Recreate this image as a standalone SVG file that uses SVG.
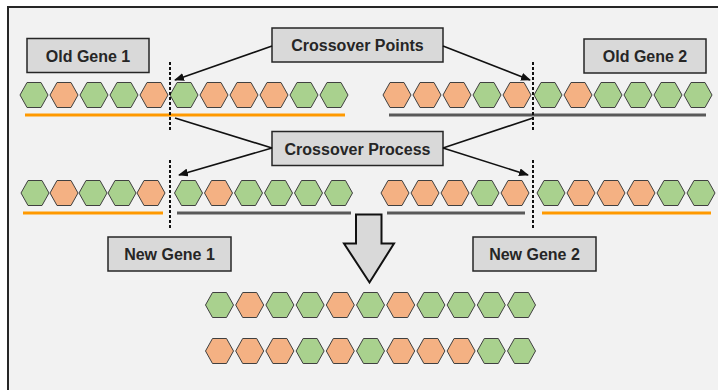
<svg xmlns="http://www.w3.org/2000/svg" width="718" height="390" viewBox="0 0 718 390">
<style>
.box{fill:#d9d9d9;stroke:#262626;stroke-width:1.5}
.lbl{font-family:"Liberation Sans",Arial,sans-serif;font-weight:bold;font-size:16px;fill:#262626;text-anchor:middle}
.g{fill:#a9d18e}
.o{fill:#f4b183}
.hx{stroke:#404040;stroke-width:1;stroke-linejoin:round}
.cn{stroke:#111;stroke-width:1.6;fill:none}
.dash{stroke:#111;stroke-width:2;stroke-dasharray:3 2;fill:none}
.or{stroke:#ff9900;stroke-width:3}
.gr{stroke:#595959;stroke-width:3}
</style>
<defs>
<polygon id="hex" class="hx" points="0,0 7,-12.5 21,-12.5 28,0 21,12.5 7,12.5"/>
<marker id="ah" markerWidth="10" markerHeight="8" refX="9" refY="4" orient="auto" markerUnits="userSpaceOnUse">
<path d="M0,0 L10,4 L0,8 Z" fill="#111"/>
</marker>
</defs>
<rect x="8" y="7" width="740" height="400" fill="#f2f2f2" stroke="#262626" stroke-width="2"/>

<g id="old-gene-1-label"><rect class="box" x="27" y="38.5" width="122" height="34"/><text class="lbl" x="88" y="61.5">Old Gene 1</text></g>
<g id="crossover-points"><rect class="box" x="272" y="28" width="171" height="34"/><text class="lbl" x="357.5" y="51">Crossover Points</text></g>
<g id="old-gene-2-label"><rect class="box" x="584" y="39" width="122" height="34"/><text class="lbl" x="645" y="62">Old Gene 2</text></g>
<g id="crossover-process"><rect class="box" x="272" y="131.5" width="171" height="34"/><text class="lbl" x="357.5" y="154.5">Crossover Process</text></g>
<g id="new-gene-1-label"><rect class="box" x="108" y="237" width="123" height="34"/><text class="lbl" x="169.5" y="260">New Gene 1</text></g>
<g id="new-gene-2-label"><rect class="box" x="473" y="237" width="123" height="34"/><text class="lbl" x="534.5" y="260">New Gene 2</text></g>

<g id="old-gene-1">
<use href="#hex" class="g" x="20" y="95"/><use href="#hex" class="o" x="50" y="95"/><use href="#hex" class="g" x="80" y="95"/><use href="#hex" class="g" x="110" y="95"/><use href="#hex" class="o" x="140" y="95"/>
<use href="#hex" class="g" x="170" y="95"/><use href="#hex" class="o" x="200" y="95"/><use href="#hex" class="o" x="230" y="95"/><use href="#hex" class="o" x="260" y="95"/><use href="#hex" class="g" x="290" y="95"/><use href="#hex" class="g" x="320" y="95"/>
<line class="or" x1="25" y1="115" x2="345" y2="115"/>
</g>
<g id="old-gene-2">
<use href="#hex" class="o" x="383" y="95"/><use href="#hex" class="o" x="413" y="95"/><use href="#hex" class="o" x="443" y="95"/><use href="#hex" class="g" x="473" y="95"/><use href="#hex" class="o" x="503" y="95"/>
<use href="#hex" class="g" x="534" y="95"/><use href="#hex" class="o" x="564" y="95"/><use href="#hex" class="g" x="594" y="95"/><use href="#hex" class="g" x="624" y="95"/><use href="#hex" class="g" x="654" y="95"/><use href="#hex" class="g" x="684" y="95"/>
<line class="gr" x1="389" y1="115" x2="706" y2="115"/>
</g>
<g id="new-gene-1">
<use href="#hex" class="g" x="21" y="193"/><use href="#hex" class="o" x="50" y="193"/><use href="#hex" class="g" x="79" y="193"/><use href="#hex" class="g" x="108" y="193"/><use href="#hex" class="o" x="137" y="193"/>
<use href="#hex" class="g" x="174.5" y="193"/><use href="#hex" class="o" x="204.5" y="193"/><use href="#hex" class="g" x="234.5" y="193"/><use href="#hex" class="g" x="264.5" y="193"/><use href="#hex" class="g" x="294.5" y="193"/><use href="#hex" class="g" x="324.5" y="193"/>
<line class="or" x1="23" y1="213" x2="163" y2="213"/>
<line class="gr" x1="177" y1="213" x2="351" y2="213"/>
</g>
<g id="new-gene-2">
<use href="#hex" class="o" x="381" y="193"/><use href="#hex" class="o" x="411" y="193"/><use href="#hex" class="o" x="441" y="193"/><use href="#hex" class="g" x="471" y="193"/><use href="#hex" class="o" x="501" y="193"/>
<use href="#hex" class="g" x="537" y="193"/><use href="#hex" class="o" x="567" y="193"/><use href="#hex" class="o" x="597" y="193"/><use href="#hex" class="o" x="627" y="193"/><use href="#hex" class="g" x="657" y="193"/><use href="#hex" class="g" x="687" y="193"/>
<line class="gr" x1="387" y1="213" x2="525" y2="213"/>
<line class="or" x1="542" y1="213" x2="711" y2="213"/>
</g>
<g id="result-gene-1">
<use href="#hex" class="g" x="205.5" y="305"/><use href="#hex" class="o" x="235.7" y="305"/><use href="#hex" class="g" x="265.9" y="305"/><use href="#hex" class="g" x="296.1" y="305"/><use href="#hex" class="o" x="326.3" y="305"/><use href="#hex" class="g" x="356.5" y="305"/><use href="#hex" class="o" x="386.7" y="305"/><use href="#hex" class="g" x="416.9" y="305"/><use href="#hex" class="g" x="447.1" y="305"/><use href="#hex" class="g" x="477.3" y="305"/><use href="#hex" class="g" x="507.5" y="305"/>
</g>
<g id="result-gene-2">
<use href="#hex" class="o" x="205.5" y="351"/><use href="#hex" class="o" x="235.7" y="351"/><use href="#hex" class="o" x="265.9" y="351"/><use href="#hex" class="g" x="296.1" y="351"/><use href="#hex" class="o" x="326.3" y="351"/><use href="#hex" class="g" x="356.5" y="351"/><use href="#hex" class="o" x="386.7" y="351"/><use href="#hex" class="o" x="416.9" y="351"/><use href="#hex" class="o" x="447.1" y="351"/><use href="#hex" class="g" x="477.3" y="351"/><use href="#hex" class="g" x="507.5" y="351"/>
</g>
<g id="block-arrow">
<path d="M356,214.5 H381.5 V243.5 H394 L369.5,282.5 L344,243.5 H356 Z" fill="#d9d9d9" stroke="#111" stroke-width="2" stroke-linejoin="miter"/>
</g>
<g id="connectors">
<line class="dash" x1="170" y1="62" x2="170" y2="131"/>
<line class="dash" x1="533" y1="62" x2="533" y2="131"/>
<line class="dash" x1="170" y1="160" x2="170" y2="230"/>
<line class="dash" x1="533" y1="160" x2="533" y2="230"/>
<line class="cn" x1="272" y1="46" x2="175" y2="80" marker-end="url(#ah)"/>
<line class="cn" x1="443" y1="46" x2="530" y2="80" marker-end="url(#ah)"/>
<line class="cn" x1="175" y1="118" x2="272" y2="148"/>
<line class="cn" x1="533" y1="118" x2="443" y2="148"/>
<line class="cn" x1="272" y1="148" x2="179" y2="175" marker-end="url(#ah)"/>
<line class="cn" x1="443" y1="148" x2="528" y2="175" marker-end="url(#ah)"/>
</g>
</svg>
